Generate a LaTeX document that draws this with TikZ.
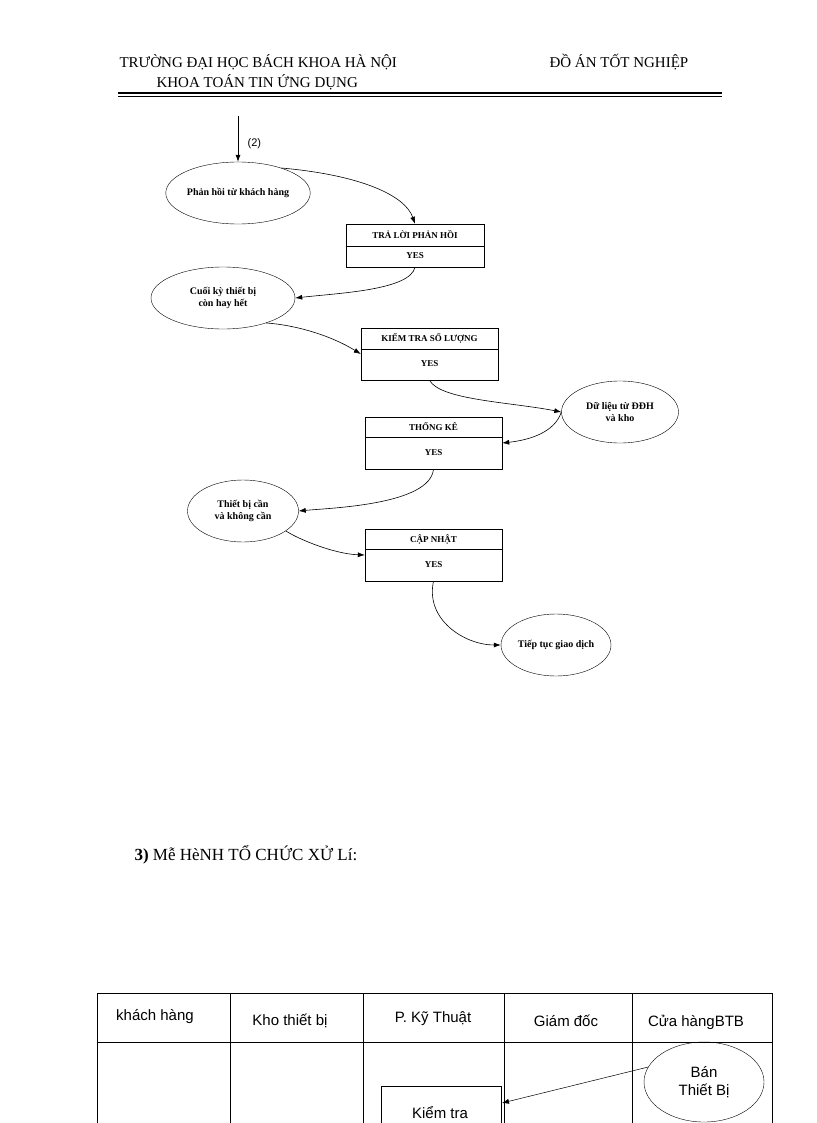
\documentclass[tikz,border=0pt]{standalone}
\usepackage{fontspec}
\setmainfont{Liberation Serif}
\newfontfamily\sansf{Liberation Sans}
\usetikzlibrary{shapes.geometric,arrows.meta}
\begin{document}
\begin{tikzpicture}[x=1pt,y=-1pt,
  ell/.style={draw,ellipse,minimum width=#1,minimum height=62pt,inner sep=0pt,align=center,font=\fontsize{10}{12}\selectfont\bfseries},
  lbl/.style={font=\fontsize{9}{11}\selectfont\bfseries},
  arr/.style={-{Latex[length=7pt,width=5pt]},line width=0.6pt},
  hd/.style={font=\fontsize{15}{17}\selectfont},
  th/.style={font=\sansf\fontsize{15}{17}\selectfont}]
\useasboundingbox (0,0) rectangle (816,1123);
% header
\node[hd,anchor=west] (h1) at (116,62) {TRƯỜNG ĐẠI HỌC BÁCH KHOA HÀ NỘI};
\node[hd,anchor=west] (h2) at (546,62) {ĐỒ ÁN TỐT NGHIỆP};
\node[hd,anchor=west] (h3) at (153,82) {KHOA TOÁN TIN ỨNG DỤNG};
\draw[line width=1.4pt] (118,93) -- (722,93);
\draw[line width=0.7pt] (118,96.5) -- (722,96.5);
% flow
\coordinate (s) at (238,116);
\node[ell=140pt] (e1) at (238,193) {Phản hồi từ khách hàng};
\draw[arr] (s) -- (e1.north) node[pos=0.6,right=6pt,font=\sansf\fontsize{11}{13}\selectfont]{(2)};
\node[draw,minimum width=138pt,minimum height=43pt] (b1) at (415,245.5) {};
\draw (b1.west|-0,246) -- (b1.east|-0,246);
\node[lbl] (b1t) at (415,235) {TRẢ LỜI PHẢN HỒI};
\node[lbl] (b1y) at (415,256) {YES};
\node[ell=144pt] (e2) at (223,298) {Cuối kỳ thiết bị\\còn hay hết};
\node[draw,minimum width=137pt,minimum height=52pt] (b2) at (429.5,354) {};
\draw (b2.west|-0,349) -- (b2.east|-0,349);
\node[lbl] (b2t) at (429.5,338.5) {KIỂM TRA SỐ LƯỢNG};
\node[lbl] (b2y) at (429.5,364) {YES};
\node[ell=117pt] (e3) at (620,412) {Dữ liệu từ ĐĐH\\và kho};
\node[draw,minimum width=137pt,minimum height=52pt] (b3) at (433.5,443) {};
\draw (b3.west|-0,437) -- (b3.east|-0,437);
\node[lbl] (b3t) at (433.5,427) {THỐNG KÊ};
\node[lbl] (b3y) at (433.5,453) {YES};
\node[ell=111pt] (e4) at (243,511) {Thiết bị cần\\và không cần};
\node[draw,minimum width=137pt,minimum height=52pt] (b4) at (433.5,555) {};
\draw (b4.west|-0,549) -- (b4.east|-0,549);
\node[lbl] (b4t) at (433.5,539) {CẬP NHẬT};
\node[lbl] (b4y) at (433.5,565) {YES};
\node[ell=110pt] (e5) at (556,645) {Tiếp tục giao dịch};
\draw[arr] (e1.30) .. controls (360,175) and (405,195) .. (b1.north);
\draw[arr] (b1.south) .. controls (410,290) and (340,293) .. (e2.east);
\draw[arr] (e2.-30) .. controls (295,325) and (330,335) .. (b2.west);
\draw[arr] (b2.south) .. controls (440,400) and (510,402) .. (e3.west);
\draw[arr] (e3.west) .. controls (555,432) and (530,440) .. (b3.east);
\draw[arr] (b3.south) .. controls (430,505) and (330,508) .. (e4.east);
\draw[arr] (e4.-25) .. controls (300,540) and (335,554) .. (b4.west);
\draw[arr] (b4.south) .. controls (425,620) and (465,645) .. (e5.west);
% section title
\node[anchor=west,font=\fontsize{17}{19}\selectfont] (t) at (131,855) {\textbf{3)} Mễ HèNH TỔ CHỨC XỬ Lí:};
% table
\begin{scope}
\clip (0,0) rectangle (816,1123);
\draw (97,1130) -- (97,993) -- (772,993) -- (772,1130);
\draw (97,1042) -- (772,1042);
\foreach \x in {230,363,504,632} \draw (\x,993) -- (\x,1130);
\node[th] (c1) at (155,1017) {khách hàng};
\node[th] (c2) at (290,1021) {Kho thiết bị};
\node[th] (c3) at (433,1019) {P. Kỹ Thuật};
\node[th] (c4) at (566,1021) {Giám đốc};
\node[th] (c5) at (696,1022) {Cửa hàngBTB};
\draw (381,1140) -- (381,1086) -- (501,1086) -- (501,1140);
\node[th] (kt) at (440,1113) {Kiểm tra};
\coordinate (ktr) at (502,1103);
\node[draw,ellipse,minimum width=120pt,minimum height=80pt,inner sep=0pt,align=center,font=\sansf\fontsize{15}{18}\selectfont] (bt) at (704,1082) {Bán\\Thiết Bị};
\draw[-{Latex[length=7pt,width=5pt]},line width=0.5pt] (bt.165) -- (ktr);
\end{scope}
\end{tikzpicture}
\end{document}
